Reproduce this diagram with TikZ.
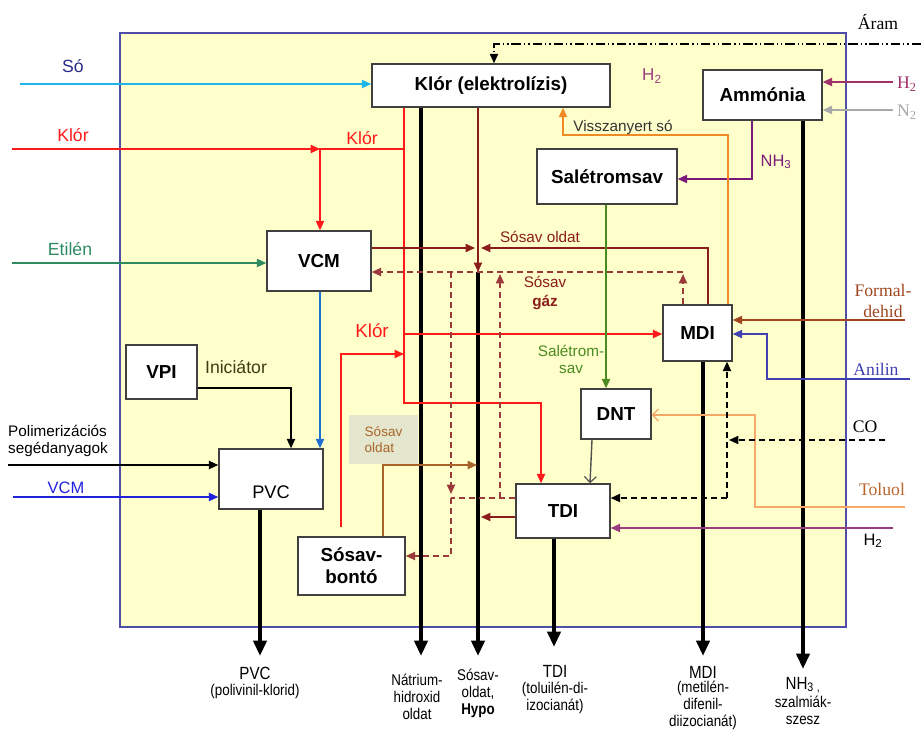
\documentclass[tikz,border=0pt]{standalone}
\usepackage{fontspec}
\setmainfont{Liberation Sans}
\newfontfamily\serifff{Liberation Serif}
\newfontfamily\narrowff[FakeStretch=0.86]{Liberation Sans}
\usetikzlibrary{arrows.meta}
\newcommand\fsz[2]{\fontsize{#1}{#2}\selectfont}
\definecolor{yel}{HTML}{FFFFCC}
\definecolor{bord}{HTML}{4E4EA6}
\definecolor{kred}{HTML}{FF1A1A}
\definecolor{dred}{HTML}{8B1C1C}
\definecolor{gasred}{HTML}{9A3A3A}
\definecolor{cyanl}{HTML}{1EB6EA}
\definecolor{sob}{HTML}{2A2A8A}
\definecolor{etg}{HTML}{2E8B60}
\definecolor{vcmb}{HTML}{1F70D0}
\definecolor{vcmext}{HTML}{2222DD}
\definecolor{inicol}{HTML}{3C3C14}
\definecolor{hmag}{HTML}{A03068}
\definecolor{ngray}{HTML}{A8A8A8}
\definecolor{nhp}{HTML}{7A1A7A}
\definecolor{orng}{HTML}{F08A24}
\definecolor{sgreen}{HTML}{4A8A20}
\definecolor{tolo}{HTML}{F5A868}
\definecolor{tolt}{HTML}{B8642A}
\definecolor{form}{HTML}{A0461E}
\definecolor{anil}{HTML}{4040B0}
\definecolor{htwob}{HTML}{9B3B80}
\definecolor{brn}{HTML}{A8642A}
\definecolor{labfill}{HTML}{E4E7CD}
\definecolor{dnttdi}{HTML}{505050}
\begin{document}
\begin{tikzpicture}[x=0.85pt,y=-0.85pt,
  box/.style={draw=black!75, line width=1.2pt, fill=white, inner sep=0pt, font=\fsz{16}{19}\bfseries, align=center},
  ln/.style={line width=1.2pt},
  arr/.style={-{Triangle[length=8pt,width=7pt]}},
  oarr/.style={-{Straight Barb[length=5pt,width=10pt,line width=1pt]}},
  thickout/.style={line width=3.4pt,-{Triangle[length=13pt,width=11pt]}},
  dsh/.style={dash pattern=on 5pt off 3.5pt},
  lbl/.style={inner sep=0pt, font=\fsz{15}{18}},
  bl/.style={inner sep=0pt, align=center, font=\narrowff\fsz{13.2}{14.5}},
  bt/.style={inner sep=0pt, align=center, font=\narrowff\fsz{15}{17}}]
\useasboundingbox (0,0) rectangle (921,729);
\draw[draw=bord, line width=2.5pt, fill=yel] (120,33) rectangle (846,627);

% boxes
\node[box, minimum width=238*0.85pt, minimum height=43*0.85pt] (klor) at (491,85.5) {Klór (elektrolízis)};
\node[box, minimum width=119*0.85pt, minimum height=50*0.85pt] (amm) at (762.5,95) {Ammónia};
\node[box, minimum width=140*0.85pt, minimum height=55*0.85pt] (salet) at (607,176.5) {Salétromsav};
\node[box, minimum width=104*0.85pt, minimum height=60*0.85pt] (vcm) at (319,261) {VCM};
\node[box, minimum width=69*0.85pt, minimum height=56*0.85pt] (mdi) at (697.5,333) {MDI};
\node[box, minimum width=71*0.85pt, minimum height=54*0.85pt] (vpi) at (161.5,372) {VPI};
\node[box, minimum width=104*0.85pt, minimum height=60*0.85pt,
  label={[inner sep=0pt, font=\fsz{15.5}{18}, yshift=-11pt]center:PVC}] (pvc) at (271,479) {};
\node[box, minimum width=107*0.85pt, minimum height=58*0.85pt] (bonto) at (351.5,566) {Sósav-\\bontó};
\node[box, minimum width=70*0.85pt, minimum height=50*0.85pt] (dnt) at (616,414) {DNT};
\node[box, minimum width=94*0.85pt, minimum height=54*0.85pt] (tdi) at (563,511) {TDI};
\node[fill=labfill, minimum width=69*0.85pt, minimum height=49*0.85pt, inner sep=0pt, text=brn, font=\fsz{11.5}{14}, align=left] (sol) at (383.5,439.5) {Sósav\\oldat};

% thick product lines
\draw[thickout] (pvc.south -| 260,0) -- (260,656);
\draw[thickout] (klor.south -| 421,0) -- (421,656);
\coordinate (sosavtop) at (478,272);
\draw[thickout] (sosavtop) -- (478,656);
\draw[thickout] (tdi.south -| 554,0) -- (554,647);
\draw[thickout] (mdi.south -| 703,0) -- (703,656);
\draw[thickout] (amm.south -| 803,0) -- (803,669);

% Aram
\coordinate (aramR) at (921,44);
\coordinate (aramK) at (494,44);
\draw[line width=1pt, dash pattern=on 8pt off 2.5pt on 1.2pt off 2.5pt on 1.2pt off 2.5pt, arr] (aramR) -- (aramK) -- (klor.north -| aramK);

% So
\draw[ln, cyanl, arr] (20,84) -- (klor.west |- 0,84);

% Klor
\coordinate (kj) at (320,149);
\coordinate (bk) at (341,527);
\draw[ln, kred, arr] (12,149) -- (kj);
\draw[ln, kred, arr] (klor.south -| 404,0) -- (404,403) -- (541,403) -- (tdi.north -| 541,0);
\draw[ln, kred, arr] (404,149) -- (kj) -- (vcm.north -| kj);
\draw[ln, kred, arr] (404,334) -- (mdi.west |- 0,334);
\draw[ln, kred, arr] (bk) -- (341,354) -- (404,354);

% Etilen
\draw[ln, etg, arr] (12,263) -- (vcm.west |- 0,263);

% Sosav oldat
\draw[ln, dred, arr] (vcm.east |- 0,248) -- (475,248);
\draw[ln, dred, arr] (mdi.north -| 708,0) -- (708,248) -- (481,248);
\draw[ln, dred, arr] (klor.south -| 478,0) -- (sosavtop);

% Sosav gaz
\draw[ln, gasred, dsh, arr] (mdi.north -| 683,0) -- (683,274);
\draw[ln, gasred, dsh, arr] (683,272) -- (vcm.east |- 0,272);
\draw[ln, gasred, dsh] (tdi.west |- 0,498) -- (451,498);
\draw[ln, gasred, dsh, arr] (500,498) -- (500,274);
\draw[ln, gasred, dsh, arr] (451,272) -- (451,494);
\draw[ln, gasred, dsh, arr] (451,498) -- (451,556) -- (bonto.east |- 0,556);

% Sosav from bonto
\draw[ln, brn, arr] (bonto.north -| 383,0) -- (383,465) -- (477,465);
% TDI -> HCl
\draw[ln, dred, arr] (tdi.west |- 0,517) -- (481,517);

% VCM -> PVC
\draw[ln, vcmb, arr] (vcm.south -| 320,0) -- (pvc.north -| 320,0);
% VPI -> PVC
\draw[ln, arr] (vpi.east |- 0,388) -- (291,388) -- (pvc.north -| 291,0);
% Polim
\draw[ln, arr] (8,465) -- (pvc.west |- 0,465);
% VCM ext
\draw[ln, vcmext, arr] (13,497) -- (pvc.west |- 0,497);

% H2, N2
\draw[ln, hmag, arr] (893,82) -- (amm.east |- 0,82);
\draw[ln, ngray, arr] (893,110) -- (amm.east |- 0,110);
% NH3
\draw[ln, nhp, arr] (amm.south -| 752,0) -- (752,179) -- (salet.east |- 0,179);
% Visszanyert so
\draw[ln, orng, arr] (mdi.north -| 728,0) -- (728,135) -- (563,135) -- (klor.south -| 563,0);
% Saletromsav -> DNT
\draw[ln, sgreen, arr] (salet.south -| 606,0) -- (dnt.north -| 606,0);
% DNT -> TDI
\draw[ln, dnttdi, oarr] (dnt.south -| 592,0) -- (tdi.north -| 590,0);
% Toluol
\draw[ln, tolo, oarr] (905,507) -- (755,507) -- (755,415) -- (dnt.east |- 0,415);
% Formaldehid
\draw[ln, form, arr] (905,320) -- (mdi.east |- 0,320);
% Anilin
\draw[ln, anil, arr] (910,379) -- (767,379) -- (767,334) -- (mdi.east |- 0,334);
% CO
\draw[ln, dsh, arr] (885,440) -- (729,440);
\draw[ln, dsh, arr] (727,498) -- (mdi.south -| 727,0);
\draw[ln, dsh, arr] (727,498) -- (tdi.east |- 0,498);
% H2 bottom
\draw[ln, htwob, arr] (893,528) -- (tdi.east |- 0,528);

% labels
\node[lbl, text=sob] at (73,66) {Só};
\node[lbl, text=kred] at (73,135) {Klór};
\node[lbl, text=kred] at (362,138) {Klór};
\node[lbl, text=kred, font=\fsz{16}{19}] at (372,331) {Klór};
\node[lbl, text=etg] at (70,249) {Etilén};
\node[lbl, text=htwob, font=\fsz{14.5}{17}] at (652,76) {H\textsubscript{2}};
\node[lbl, font=\serifff\fsz{15}{18}] at (878,22) {Áram};
\node[lbl, text=hmag, font=\serifff\fsz{15}{18}, anchor=west] at (897,84) {H\textsubscript{2}};
\node[lbl, text=ngray, font=\serifff\fsz{15}{18}, anchor=west] at (897,112) {N\textsubscript{2}};
\node[lbl, text=nhp, font=\fsz{14}{17}] at (776,162) {NH\textsubscript{3}};
\node[lbl, text=black!80, font=\fsz{13}{16}] at (623,127) {Visszanyert só};
\node[lbl, text=dred, font=\fsz{13}{16}] at (540,237) {Sósav oldat};
\node[lbl, text=dred, font=\fsz{13}{16}, align=center] at (545,293) {Sósav\\\textbf{gáz}};
\node[lbl, text=sgreen, font=\fsz{13}{14.5}, align=center] at (571,359) {Salétrom-\\sav};
\node[lbl, text=inicol] at (236,367) {Iniciátor};
\node[lbl, font=\fsz{13}{15}, align=left, anchor=west] at (8,441) {Polimerizációs\\segédanyagok};
\node[lbl, text=vcmext, font=\fsz{14}{17}] at (66,488) {VCM};
\node[lbl, text=form, font=\serifff\fsz{15}{17.5}, align=center] at (883,301) {Formal-\\dehid};
\node[lbl, text=anil, font=\serifff\fsz{15}{18}] at (876,369) {Anilin};
\node[lbl, font=\serifff\fsz{15}{18}] at (865,427) {CO};
\node[lbl, text=tolt, font=\serifff\fsz{15}{18}] at (882,489) {Toluol};
\node[lbl, font=\fsz{14}{17}] at (873,541) {H\textsubscript{2}};

% bottom labels
\node[bt] at (255,673) {PVC};
\node[bl] at (255,691) {(polivinil-klorid)};
\node[bl] at (417,697) {Nátrium-\\hidroxid\\oldat};
\node[bl] at (478,693) {Sósav-\\oldat,\\\textbf{Hypo}};
\node[bt] at (555,671) {TDI};
\node[bl] at (555,697.5) {(toluilén-di-\\izocianát)};
\node[bt] at (703,672) {MDI};
\node[bl] at (703,705.5) {(metilén-\\difenil-\\diizocianát)};
\node[bt] at (803,685) {NH\textsubscript{3}\,\textsubscript{,}};
\node[bl] at (803,710.5) {szalmiák-\\szesz};
\end{tikzpicture}
\end{document}
